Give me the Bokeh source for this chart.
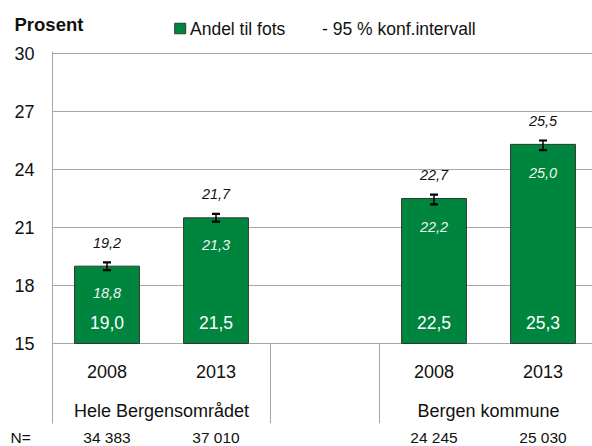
from bokeh.plotting import figure
from bokeh.layouts import column
from bokeh.models import Range1d, FixedTicker, Whisker, TeeHead, ColumnDataSource
from bokeh.core.properties import value
from bokeh.embed import file_html
from bokeh.resources import INLINE

# ---- data ----
groups = ["Hele Bergensområdet", "Bergen kommune"]
years = ["2008", "2013", "2008", "2013"]
bar_group = [0, 0, 1, 1]
andel = [19.0, 21.5, 22.5, 25.3]
ci_low = [18.8, 21.3, 22.2, 25.0]
ci_high = [19.2, 21.7, 22.7, 25.5]
n_resp = ["34 383", "37 010", "24 245", "25 030"]
y_ticks = [15, 18, 21, 24, 27, 30]
legend_bar = "Andel til fots"
legend_ci = "- 95 % konf.intervall"
y_title = "Prosent"
n_title = "N="

# ---- layout constants (pixels) ----
W = 592
TOP_H, MAIN_H, BOT_H = 40, 388, 18
FL = 52                    # frame left
MT, MB = 11, 5             # main figure top / bottom borders
SLOT = 109.0               # px per category slot
PX = 19.333                # px per percent unit
Y0, Y1 = y_ticks[0], y_ticks[-1]
BELOW = 80                 # separator length under the axis
Y_LO = Y0 - BELOW / PX
Y_HI = Y1 + 2 / PX
X_LO = -0.5
X_HI = X_LO + (W - FL) / SLOT
X_FULL_LO = X_LO - FL / SLOT

FONT = "Liberation Sans"
GREEN = "#00853e"
EDGE = "#2b3a2e"
GRID = "#a6a6a6"
TXT = "#111111"

per_group = 2
xs = [g * (per_group + 1) + (i % per_group) for i, g in enumerate(bar_group)]
fmt = lambda v: f"{v:.1f}".replace(".", ",")
px2x = lambda px: X_LO + (px - FL) / SLOT

src = ColumnDataSource(dict(
    x=xs, andel=andel, lo=ci_low, hi=ci_high,
    val_txt=[fmt(v) for v in andel],
    lo_txt=[fmt(v) for v in ci_low],
    hi_txt=[fmt(v) for v in ci_high],
    val_y=[Y0 + 20.5 / PX] * len(xs),
    lo_y=[v - 23 / PX for v in ci_low],
    hi_y=[v + 19.5 / PX for v in ci_high],
    year=years,
    year_y=[Y0 - 28 / PX] * len(xs),
))


def bare(height, yr):
    f = figure(width=W, height=height, output_backend="svg",
               toolbar_location=None, x_range=Range1d(X_FULL_LO, X_HI),
               y_range=yr, x_axis_type=None, y_axis_type=None,
               min_border=0, min_border_left=0, min_border_right=0,
               min_border_top=0, min_border_bottom=0, title=None,
               frame_align=False)
    f.outline_line_color = None
    f.background_fill_color = "white"
    f.border_fill_color = "white"
    return f


# ---- top strip: y title and legend (y in page pixels) ----
top = bare(TOP_H, Range1d(TOP_H, 0))
top.text(x=[X_FULL_LO + 14 / SLOT], y=[23.5], text=[y_title],
         text_font=value(FONT), text_font_size="18.5px",
         text_font_style="bold", text_color=TXT, text_align="left",
         text_baseline="middle")
top.rect(x=[px2x(179.7)], y=[28], width=11, height=10.5,
         width_units="screen", height_units="screen", fill_color=GREEN,
         line_color=EDGE, line_width=1)
top.text(x=[px2x(189.5), px2x(321.5)], y=[28.5, 28.5],
         text=[legend_bar, legend_ci], text_font=value(FONT),
         text_font_size="17.5px", text_color=TXT, text_align="left",
         text_baseline="middle")

# ---- main chart ----
p = figure(width=W, height=MAIN_H, output_backend="svg", toolbar_location=None,
           x_range=Range1d(X_LO, X_HI), y_range=Range1d(Y_LO, Y_HI),
           min_border_left=FL, min_border_right=0, min_border_top=MT,
           min_border_bottom=MB, x_axis_type=None, title=None,
           frame_align=False)
p.outline_line_color = None
p.background_fill_color = "white"
p.border_fill_color = "white"

tick = FixedTicker(ticks=y_ticks)
p.yaxis.ticker = tick
p.ygrid.ticker = tick
p.ygrid.grid_line_color = GRID
p.ygrid.grid_line_width = 1
p.yaxis.axis_line_color = GRID
p.yaxis.major_tick_line_color = None
p.yaxis.minor_tick_line_color = None
p.yaxis.major_tick_out = 0
p.yaxis.major_tick_in = 0
p.yaxis.major_label_standoff = 18
p.yaxis.major_label_text_font = FONT
p.yaxis.major_label_text_font_size = "18px"
p.yaxis.major_label_text_color = TXT

p.vbar(x="x", top="andel", bottom=Y0, width=0.595, fill_color=GREEN,
       line_color=EDGE, line_width=1, source=src)

head = dict(size=8, line_width=2.2, line_color="black")
p.add_layout(Whisker(source=src, base="x", upper="hi", lower="lo",
                     line_color="black", line_width=1.5, level="overlay",
                     upper_head=TeeHead(**head), lower_head=TeeHead(**head)))

p.text(x="x", y="val_y", text="val_txt", source=src, text_font=value(FONT),
       text_font_size="17.5px", text_color="white", text_align="center",
       text_baseline="middle")
p.text(x="x", y="lo_y", text="lo_txt", source=src, text_font=value(FONT),
       text_font_size="14.5px", text_font_style="italic", text_color="#eef5ee",
       text_align="center", text_baseline="middle")
p.text(x="x", y="hi_y", text="hi_txt", source=src, text_font=value(FONT),
       text_font_size="14.5px", text_font_style="italic", text_color=TXT,
       text_align="center", text_baseline="middle")

p.text(x="x", y="year_y", text="year", source=src, text_font=value(FONT),
       text_font_size="18px", text_color=TXT, text_align="center",
       text_baseline="middle")
gx = [g * (per_group + 1) + (per_group - 1) / 2 for g in range(len(groups))]
p.text(x=gx, y=[Y0 - 67.5 / PX] * len(groups), text=groups,
       text_font=value(FONT), text_font_size="18px", text_color=TXT,
       text_align="center", text_baseline="middle")
sep_x = [per_group - 0.5, per_group + 0.5]
p.segment(x0=sep_x, x1=sep_x, y0=[Y0] * 2, y1=[Y_LO] * 2, line_color=GRID,
          line_width=1)

# ---- bottom strip: respondent counts (y in page pixels) ----
H_ALL = TOP_H + MAIN_H + BOT_H
N_Y = 436.7
bot = bare(BOT_H, Range1d(H_ALL, H_ALL - BOT_H))
bot.text(x=[X_FULL_LO + 10 / SLOT] + xs, y=[N_Y] * (len(xs) + 1),
         text=[n_title] + n_resp, text_font=value(FONT),
         text_font_size="15.5px", text_color=TXT,
         text_align=["left"] + ["center"] * len(xs), text_baseline="middle")

layout = column(top, p, bot, spacing=0)
open("out.html", "w").write(file_html(layout, INLINE))
